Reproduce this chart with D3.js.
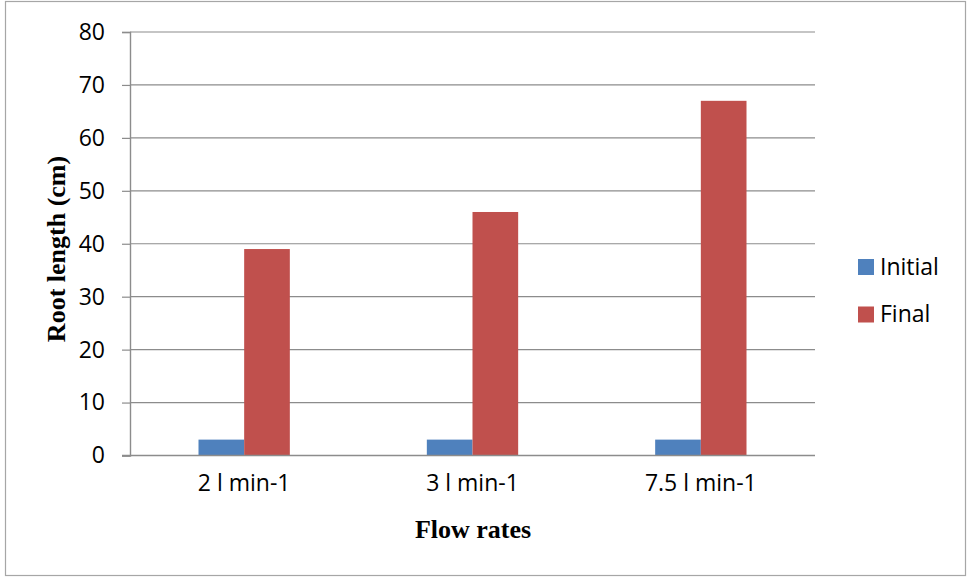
<!DOCTYPE html>
<html>
<head>
<meta charset="utf-8">
<script src="https://cdn.jsdelivr.net/npm/d3@7"></script>
<style>
  html, body { margin: 0; padding: 0; background: #fff; }
  svg { display: block; }
</style>
</head>
<body>
<svg id="chart" width="969" height="577"></svg>
<script>
// Root length by flow rate, initial vs final
const categories = ["2 l min-1", "3 l min-1", "7.5 l min-1"];
const seriesNames = ["Initial", "Final"];
const initialValues = [3, 3, 3];
const finalValues = [39, 46, 67];
const yTicks = [0, 10, 20, 30, 40, 50, 60, 70, 80];
const colors = ["#4F81BD", "#C0504D"];

const svg = d3.select("#chart");
const plot = { left: 130, right: 815, top: 32, bottom: 455.5 };
const tickFont = "'Open Sans', sans-serif";
const titleFont = "'Liberation Serif', 'Times New Roman', serif";

// outer frame
svg.append("rect")
  .attr("x", 5.5).attr("y", 1.5)
  .attr("width", 960).attr("height", 574)
  .attr("fill", "none").attr("stroke", "#a6a6a6").attr("stroke-width", 1.2);

const x0 = d3.scaleBand().domain(categories).range([plot.left, plot.right]).padding(0);
const bw = x0.bandwidth();
const x1 = d3.scaleBand().domain(seriesNames).range([0.3 * bw, 0.7 * bw]).padding(0);
const y = d3.scaleLinear().domain([0, 80]).range([plot.bottom, plot.top]);

// gridlines
svg.append("g")
  .selectAll("line")
  .data(yTicks.filter(d => d > 0))
  .join("line")
  .attr("x1", plot.left).attr("x2", plot.right)
  .attr("y1", d => y(d)).attr("y2", d => y(d))
  .attr("stroke", "#8c8c8c").attr("stroke-width", 1.2);

// y axis
const yAxis = svg.append("g")
  .attr("transform", `translate(${plot.left},0)`)
  .call(d3.axisLeft(y).tickValues(yTicks).tickSize(8).tickPadding(17).tickFormat(d3.format("d")));
yAxis.select(".domain").attr("stroke", "#8c8c8c").attr("stroke-width", 1.4);
yAxis.selectAll(".tick line").attr("stroke", "#8c8c8c").attr("stroke-width", 1.2);
yAxis.selectAll(".tick text")
  .attr("font-family", tickFont).attr("font-size", 23).attr("fill", "#000");

// bars
const rows = categories.map((c, i) => ({ cat: c, vals: [initialValues[i], finalValues[i]] }));
const groups = svg.append("g").selectAll("g")
  .data(rows).join("g")
  .attr("transform", d => `translate(${x0(d.cat)},0)`);
groups.selectAll("rect")
  .data(d => d.vals.map((v, j) => ({ name: seriesNames[j], v, j })))
  .join("rect")
  .attr("x", d => x1(d.name))
  .attr("width", x1.bandwidth())
  .attr("y", d => y(d.v))
  .attr("height", d => y(0) - y(d.v))
  .attr("fill", d => colors[d.j]);

// x axis
const xAxis = svg.append("g")
  .attr("transform", `translate(0,${plot.bottom})`)
  .call(d3.axisBottom(x0).tickSize(0).tickPadding(19));
xAxis.select(".domain").remove();
xAxis.append("line")
  .attr("x1", plot.left - 8).attr("x2", plot.right)
  .attr("y1", 0).attr("y2", 0)
  .attr("stroke", "#8c8c8c").attr("stroke-width", 1.6);
xAxis.selectAll(".tick text")
  .attr("font-family", tickFont).attr("font-size", 23).attr("fill", "#000");

// axis titles
svg.append("text")
  .attr("x", 473).attr("y", 538)
  .attr("text-anchor", "middle")
  .attr("font-family", titleFont).attr("font-weight", "bold").attr("font-size", 26)
  .text("Flow rates");

svg.append("text")
  .attr("transform", "translate(65,249) rotate(-90)")
  .attr("text-anchor", "middle")
  .attr("font-family", titleFont).attr("font-weight", "bold").attr("font-size", 26)
  .text("Root length (cm)");

// legend
const legend = svg.append("g").selectAll("g")
  .data(seriesNames).join("g")
  .attr("transform", (d, i) => `translate(858,${259 + i * 47.5})`);
legend.append("rect")
  .attr("width", 16).attr("height", 16)
  .attr("fill", (d, i) => colors[i]);
legend.append("text")
  .attr("x", 22).attr("y", 15.5)
  .attr("font-family", tickFont).attr("font-size", 23).attr("fill", "#000")
  .text(d => d);
</script>
</body>
</html>
